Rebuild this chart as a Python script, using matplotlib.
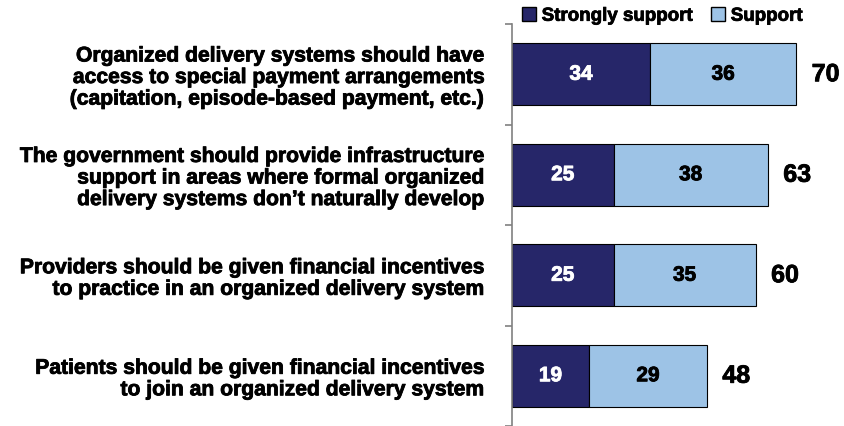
import numpy as np
import matplotlib.pyplot as plt
from matplotlib.patches import Patch
import matplotlib.patheffects as pe

plt.rcParams['font.family'] = ['Liberation Sans', 'DejaVu Sans']
plt.rcParams['font.weight'] = 'bold'

categories = [
    "Organized delivery systems should have\naccess to special payment arrangements\n(capitation, episode-based payment, etc.)",
    "The government should provide infrastructure\nsupport in areas where formal organized\ndelivery systems don\u2019t naturally develop",
    "Providers should be given financial incentives\nto practice in an organized delivery system",
    "Patients should be given financial incentives\nto join an organized delivery system",
]
strongly = [34, 25, 25, 19]
support = [36, 38, 35, 29]
totals = [70, 63, 60, 48]

dark = "#262669"
light = "#9DC3E6"

# slight stroke to get the heavier look of the original bold text
heavy = [pe.withStroke(linewidth=0.6, foreground="black")]
heavy_w = [pe.withStroke(linewidth=0.6, foreground="white")]

fig = plt.figure(figsize=(8.45, 4.26), dpi=100)
ax = fig.add_axes([512 / 845, 0.0, 1 - 512 / 845, 1 - 24 / 426])

y = np.arange(len(categories))
h = 0.62
ax.barh(y, strongly, height=h, color=dark, edgecolor="black", linewidth=0.8)
ax.barh(y, support, left=strongly, height=h, color=light, edgecolor="black", linewidth=0.8)

for i in range(len(categories)):
    ax.text(strongly[i] / 2, y[i], str(strongly[i]), ha="center", va="center",
            color="white", fontsize=15, fontweight="bold", path_effects=heavy_w)
    ax.text(strongly[i] + support[i] / 2, y[i], str(support[i]), ha="center", va="center",
            color="black", fontsize=15, fontweight="bold", path_effects=heavy)
    ax.text(totals[i] + 3.8, y[i], str(totals[i]), ha="left", va="center",
            color="black", fontsize=18, fontweight="bold", path_effects=heavy)

ax.set_xlim(0, 82)
ax.set_ylim(len(categories) - 0.5, -0.5)
ax.set_yticks(y)
ax.set_yticklabels(categories, fontsize=15.2, fontweight="bold", linespacing=1.17)
for t in ax.get_yticklabels():
    t.set_path_effects(heavy)
ax.tick_params(axis="y", which="major", length=0, pad=20)
ax.set_yticks(np.arange(-0.5, len(categories)), minor=True)
ax.tick_params(axis="y", which="minor", length=5, color="#808080", width=1.2)
ax.set_xticks([])
for s in ["top", "right", "bottom"]:
    ax.spines[s].set_visible(False)
ax.spines["left"].set_color("#808080")
ax.spines["left"].set_linewidth(1.2)

handles = [Patch(facecolor=dark, edgecolor="black", label="Strongly support"),
           Patch(facecolor=light, edgecolor="black", label="Support")]
leg = fig.legend(handles=handles, loc="center left", bbox_to_anchor=(522 / 845, 1 - 16 / 426),
                 ncol=2, frameon=False, fontsize=13.5, handlelength=0.75, handleheight=0.75,
                 handletextpad=0.3, columnspacing=1.0, borderpad=0, borderaxespad=0)
for t in leg.get_texts():
    t.set_path_effects(heavy)

fig.savefig("out.png", dpi=100)
